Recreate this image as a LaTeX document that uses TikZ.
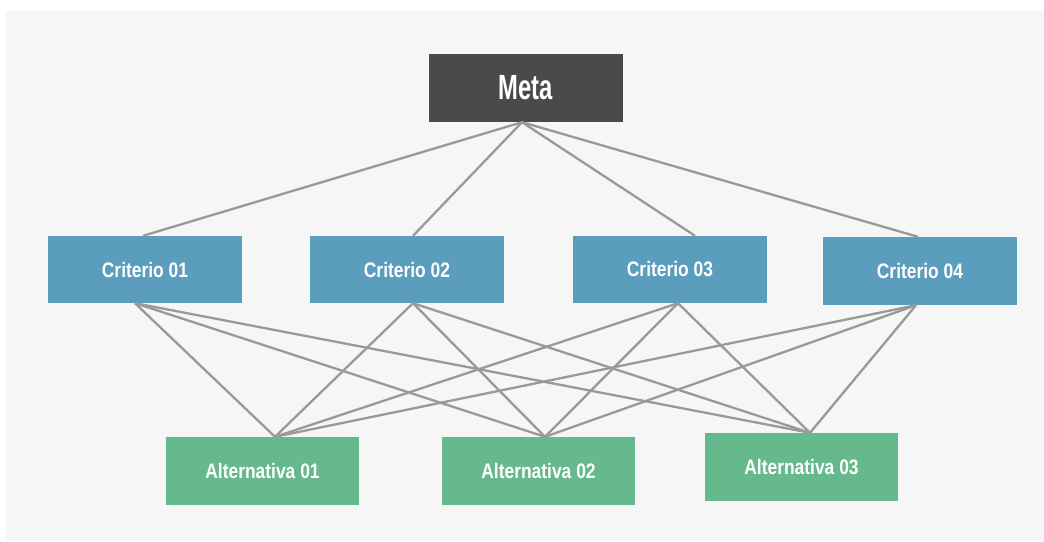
\documentclass[tikz,border=0pt]{standalone}
\usepackage{fontspec}
\newfontfamily\lblfont{Liberation Sans}[FakeStretch=0.83]
\newfontfamily\metafont{Liberation Sans}[FakeStretch=0.68]
\definecolor{bggray}{HTML}{F6F6F6}
\definecolor{metafill}{HTML}{4A4A4A}
\definecolor{critfill}{HTML}{5B9DBD}
\definecolor{altfill}{HTML}{66B98C}
\definecolor{linkgray}{HTML}{999999}
\tikzset{
  box/.style={rectangle, inner sep=0pt, text=white, minimum width=194pt, minimum height=67pt, anchor=center},
  metabox/.style={box, fill=metafill, minimum height=68pt, font=\metafont\bfseries\fontsize{35}{40}\selectfont},
  critbox/.style={box, fill=critfill, font=\lblfont\bfseries\fontsize{21}{24}\selectfont},
  altbox/.style={box, fill=altfill, minimum width=193pt, minimum height=68pt, font=\lblfont\bfseries\fontsize{21}{24}\selectfont},
  link/.style={draw=linkgray, line width=2.3pt}
}
\begin{document}
\begin{tikzpicture}[x=1pt, y=-1pt]
\useasboundingbox (0,0) rectangle (1044,541);
\fill[bggray] (6,11) rectangle (1044,541);

\node[metabox] (meta) at (526,88) {Meta};
\node[critbox] (c1) at (145,269.5) {Criterio 01};
\node[critbox] (c2) at (407,269.5) {Criterio 02};
\node[critbox] (c3) at (670,269.5) {Criterio 03};
\node[critbox, minimum height=68pt] (c4) at (920,271) {Criterio 04};
\node[altbox] (a1) at (262.5,471) {Alternativa 01};
\node[altbox] (a2) at (538.5,471) {Alternativa 02};
\node[altbox] (a3) at (801.5,467) {Alternativa 03};

\coordinate (mb) at ([xshift=-4pt]meta.south);
\coordinate (c1t) at ([xshift=-2pt]c1.north);
\coordinate (c2t) at ([xshift=6pt]c2.north);
\coordinate (c3t) at ([xshift=25pt]c3.north);
\coordinate (c4t) at ([xshift=-2pt]c4.north);
\coordinate (c1b) at ([xshift=-10pt]c1.south);
\coordinate (c2b) at ([xshift=6pt]c2.south);
\coordinate (c3b) at ([xshift=8pt]c3.south);
\coordinate (c4b) at ([xshift=-4pt]c4.south);
\coordinate (a1t) at ([xshift=12.5pt]a1.north);
\coordinate (a2t) at ([xshift=6.5pt]a2.north);
\coordinate (a3t) at ([xshift=8.5pt]a3.north);

\foreach \c in {c1t,c2t,c3t,c4t} {\draw[link] (mb) -- (\c);}
\foreach \c in {c1b,c2b,c3b,c4b} {
  \foreach \a in {a1t,a2t,a3t} {\draw[link] (\c) -- (\a);}
}
\end{tikzpicture}
\end{document}
